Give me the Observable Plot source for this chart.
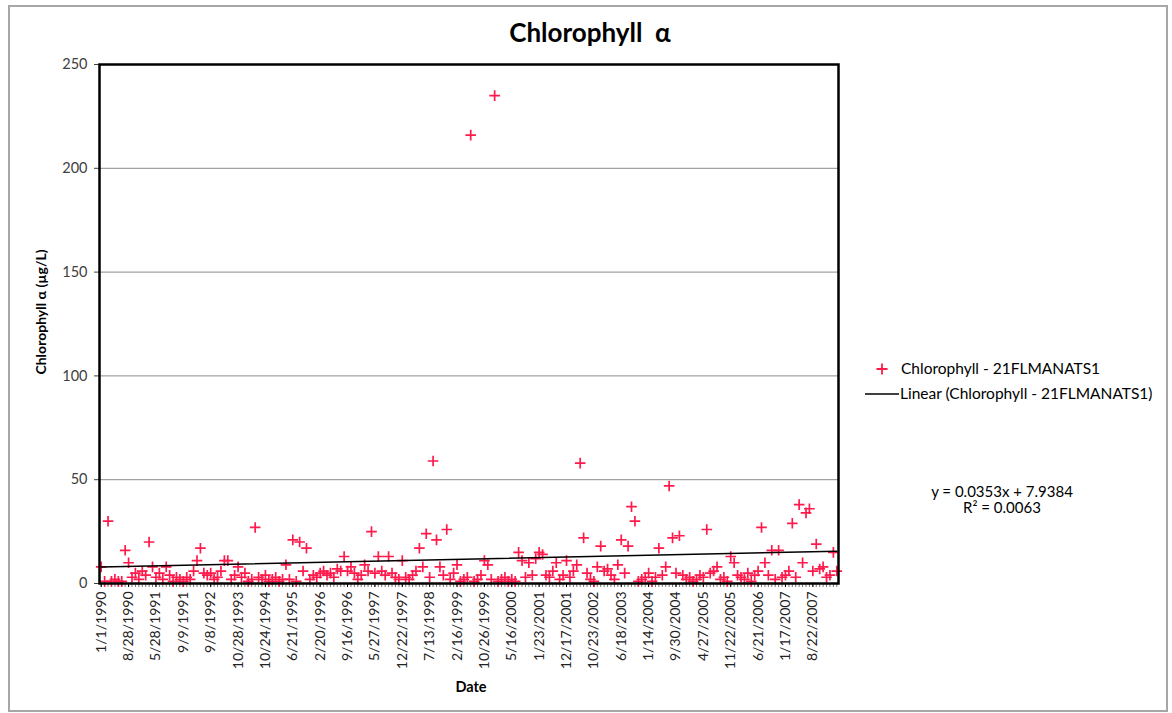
<!DOCTYPE html>
<html>
<head>
<meta charset="utf-8">
<script src="https://cdn.jsdelivr.net/npm/d3@7"></script>
<script src="https://cdn.jsdelivr.net/npm/@observablehq/plot@0.6"></script>
<style>
  html, body { margin: 0; padding: 0; background: #fff; }
  #wrap { position: relative; width: 1172px; height: 713px; font-family: Lato, "Open Sans", sans-serif; color: #000; overflow: hidden; }
  #border { position: absolute; left: 8px; top: 5px; width: 1156px; height: 703px; border: 2px solid #a6a6a6; box-sizing: content-box; }
  .abs { position: absolute; white-space: nowrap; }
  #chart { position: absolute; left: 0; top: 0; }
</style>
</head>
<body>
<div id="wrap">
  <div id="border"></div>
  <div id="chart"></div>
  <div class="abs" id="title" style="left:0;width:1180px;top:16px;text-align:center;font-size:26px;font-weight:bold;">Chlorophyll&nbsp;&nbsp;α</div>
  <div class="abs" id="ytitle" style="left:40px;top:312px;font-size:14px;font-weight:bold;transform:translate(-50%,-50%) rotate(-90deg);">Chlorophyll α (µg/L)</div>
  <div class="abs" id="xtitle" style="left:471px;top:686px;font-size:14.5px;font-weight:bold;transform:translate(-50%,-50%);">Date</div>
  <div class="abs" style="left:875px;top:358px;font-size:15.5px;line-height:20px;">
    <svg width="14" height="14" style="vertical-align:-2px;margin-right:12px"><path d="M1.5,7H12.5M7,1.5V12.5" stroke="#ff1a4b" stroke-width="1.8" fill="none"/></svg>Chlorophyll - 21FLMANATS1
  </div>
  <div class="abs" style="left:865px;top:383px;font-size:15.5px;line-height:20px;">
    <svg width="34" height="14" style="vertical-align:-2px;margin-right:1px"><path d="M0,7H34" stroke="#000" stroke-width="1.5"/></svg>Linear (Chlorophyll - 21FLMANATS1)
  </div>
  <div class="abs" style="left:1002px;top:483px;font-size:15px;line-height:16px;text-align:center;transform:translateX(-50%);">y = 0.0353x + 7.9384<br>R² = 0.0063</div>
</div>
<script>
// Category tick labels (every 8th sample)
const tickLabels = ["1/1/1990","8/28/1990","5/28/1991","9/9/1991","9/8/1992","10/28/1993","10/24/1994","6/21/1995","2/20/1996","9/16/1996","5/27/1997","12/22/1997","7/13/1998","2/16/1999","10/26/1999","5/16/2000","1/23/2001","12/17/2001","10/23/2002","6/18/2003","1/14/2004","9/30/2004","4/27/2005","11/22/2005","6/21/2006","1/17/2007","8/22/2007"];
const labelEvery = 8;

// Chlorophyll a (µg/L), one value per sample in order
const chl = [
  8, 1, 30, 1, 2, 1, 1, 16,
  10, 3, 5, 2, 6, 4, 20, 8,
  3, 5, 2, 8, 4, 1, 3, 2,
  1, 3, 2, 6, 11, 17, 5, 4,
  5, 2, 3, 6, 11, 11, 2, 4,
  8, 3, 5, 1, 2, 27, 3, 2,
  4, 1, 2, 3, 1, 2, 9, 2,
  21, 1, 20, 6, 17, 2, 4, 3,
  5, 6, 4, 5, 3, 7, 6, 13,
  6, 8, 5, 2, 4, 9, 6, 25,
  5, 13, 6, 4, 13, 5, 3, 2,
  11, 3, 2, 4, 6, 17, 8, 24,
  3, 59, 21, 8, 4, 26, 2, 5,
  9, 1, 2, 3, 216, 1, 2, 4,
  11, 9, 2, 235, 1, 2, 3, 1,
  2, 1, 15, 11, 3, 10, 4, 12,
  15, 14, 4, 3, 6, 10, 2, 4,
  11, 3, 6, 9, 58, 22, 5, 2,
  1, 8, 18, 6, 7, 4, 2, 9,
  21, 5, 18, 37, 30, 1, 2, 3,
  5, 1, 3, 17, 4, 8, 47, 22,
  5, 23, 4, 2, 3, 1, 2, 4,
  3, 26, 5, 6, 8, 2, 3, 1,
  13, 10, 4, 3, 2, 5, 1, 4,
  6, 27, 10, 4, 16, 2, 16, 3,
  4, 6, 29, 3, 38, 10, 34, 36,
  6, 19, 7, 8, 3, 4, 15, 6
];

// Linear trend (Excel): y = slope * x + intercept, x = 1..N
const trendSlope = 0.0353;
const trendIntercept = 7.9384;

const yTicks = [0, 50, 100, 150, 200, 250];
const yGrid = [50, 100, 150, 200];

const N = chl.length;
const pts = chl.map((v, i) => ({i, v}));
const allIdx = d3.range(N);
const labelIdx = tickLabels.map((_, k) => k * labelEvery);
const labelOf = new Map(labelIdx.map((idx, k) => [idx, tickLabels[k]]));
const trend = [0, N - 1].map(i => ({i, v: trendSlope * (i + 1) + trendIntercept}));

const plusSymbol = {
  draw(ctx, size) {
    const r = Math.sqrt(size / Math.PI);
    ctx.moveTo(-r, 0); ctx.lineTo(r, 0);
    ctx.moveTo(0, -r); ctx.lineTo(0, r);
  }
};

const chart = Plot.plot({
  width: 1172,
  height: 713,
  marginLeft: 99,
  marginRight: 334,
  marginTop: 64,
  marginBottom: 130,
  style: {fontFamily: "Lato, 'Open Sans', sans-serif", background: "transparent", overflow: "visible"},
  x: {type: "linear", domain: [-0.5, N - 0.5]},
  y: {domain: [0, 250]},
  marks: [
    Plot.gridY(yGrid, {stroke: "#8c8c8c", strokeOpacity: 1, strokeWidth: 1}),
    Plot.axisY({ticks: yTicks, tickSize: 5, tickPadding: 7, fontSize: 14.5, fill: "#404040", stroke: "#404040", label: null}),
    Plot.axisX({ticks: allIdx, tickSize: 4, tickFormat: () => "", stroke: "#4a5a4a", strokeWidth: 0.8, label: null}),
    Plot.axisX({ticks: labelIdx, tickSize: 4, tickPadding: 4, tickRotate: -90, tickFormat: d => labelOf.get(d), fontSize: 14, fill: "#222", label: null}),
    Plot.dot(pts, {x: "i", y: "v", symbol: plusSymbol, r: 5.3, stroke: "#ff1a4b", strokeWidth: 1.7, fill: "none"}),
    Plot.line(trend, {x: "i", y: "v", stroke: "#000", strokeWidth: 1.5}),
    Plot.frame({stroke: "#000", strokeWidth: 2.5})
  ]
});
document.getElementById("chart").appendChild(chart);
</script>
</body>
</html>
